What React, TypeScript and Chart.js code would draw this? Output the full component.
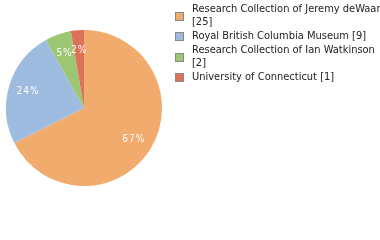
import React, { useEffect, useRef } from "react";
import { Chart, registerables } from "chart.js";

Chart.register(...registerables);

const categories = [
  "Research Collection of Jeremy deWaard",
  "Royal British Columbia Museum",
  "Research Collection of Ian Watkinson",
  "University of Connecticut",
];
const counts = [25, 9, 2, 1];
const colors = ["#F0AB6D", "#9EBBE0", "#9DC673", "#DE7259"];

const FONT = "'DejaVu Sans Condensed', 'DejaVu Sans', sans-serif";

const labelsPlugin = {
  id: "sliceLabels",
  afterDatasetsDraw(chart: any) {
    const ctx = chart.ctx;
    const meta = chart.getDatasetMeta(0);
    const total = counts.reduce((a, b) => a + b, 0);
    ctx.save();
    ctx.font = `10px ${FONT}`;
    (ctx as any).letterSpacing = "1px";
    ctx.fillStyle = "#ffffff";
    ctx.textAlign = "center";
    ctx.textBaseline = "middle";
    meta.data.forEach((arc: any, i: number) => {
      const { x, y, startAngle, endAngle, outerRadius } = arc.getProps(
        ["x", "y", "startAngle", "endAngle", "outerRadius"],
        true
      );
      const mid = (startAngle + endAngle) / 2;
      const r = outerRadius * 0.75;
      const pct = Math.floor((counts[i] / total) * 100);
      ctx.fillText(pct + "%", x + Math.cos(mid) * r, y + 1 + Math.sin(mid) * r);
    });
    ctx.restore();
  },
};

const legendPlugin = {
  id: "sideLegend",
  afterDraw(chart: any) {
    const ctx = chart.ctx;
    const boxX = 175;
    const textX = 192;
    const lineH = 13;
    const maxW = chart.width - textX;
    let y = 9;
    ctx.save();
    ctx.font = `11px ${FONT}`;
    ctx.textBaseline = "middle";
    ctx.textAlign = "left";
    categories.forEach((name, i) => {
      const full = `${name} [${counts[i]}]`;
      const lines =
        ctx.measureText(full).width > maxW ? [name, `[${counts[i]}]`] : [full];
      const blockMid = y + ((lines.length - 1) * lineH) / 2;
      const by = Math.round(blockMid - 4) + 0.5;
      ctx.fillStyle = colors[i];
      ctx.fillRect(boxX + 0.5, by, 8, 8);
      ctx.strokeStyle = "#888888";
      ctx.lineWidth = 1;
      ctx.strokeRect(boxX + 0.5, by, 8, 8);
      ctx.fillStyle = "#222222";
      lines.forEach((ln, j) => {
        ctx.fillText(ln, textX, y + j * lineH);
      });
      y += lines.length * lineH + 1;
    });
    ctx.restore();
  },
};

export default function App() {
  const ref = useRef<HTMLCanvasElement>(null);
  useEffect(() => {
    if (!ref.current) return;
    const chart = new Chart(ref.current, {
      type: "pie",
      data: {
        labels: categories,
        datasets: [
          {
            data: counts,
            backgroundColor: colors,
            borderWidth: 0,
          },
        ],
      },
      options: {
        animation: false,
        responsive: false,
        maintainAspectRatio: false,
        devicePixelRatio: 1,
        layout: { padding: { left: 6, top: 30, right: 218, bottom: 54 } },
        plugins: {
          legend: { display: false },
          tooltip: { enabled: false },
        },
      },
      plugins: [labelsPlugin, legendPlugin],
    });
    return () => chart.destroy();
  }, []);
  return (
    <div style={{ position: "fixed", left: 0, top: 0, width: 380, height: 240, background: "#fff" }}>
      <canvas ref={ref} width={380} height={240} style={{ width: 380, height: 240 }} />
    </div>
  );
}
